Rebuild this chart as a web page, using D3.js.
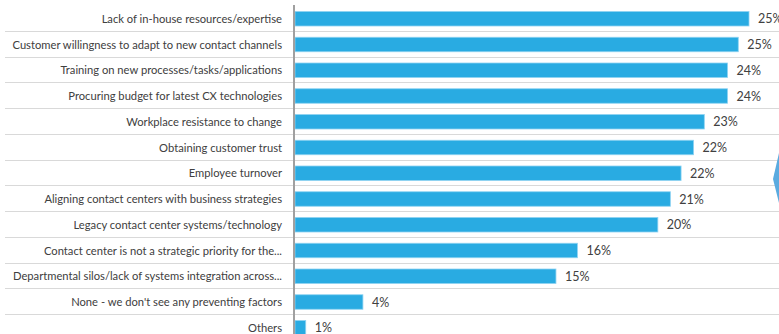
<!DOCTYPE html>
<html>
<head>
<meta charset="utf-8">
<script src="https://cdn.jsdelivr.net/npm/d3@7"></script>
<style>
  body { margin: 0; background: #fff; }
  text { font-family: Lato, "Open Sans", sans-serif; fill: #404040; }
</style>
</head>
<body>
<div id="chart"></div>
<script>
const categories = [
  "Lack of in-house resources/expertise",
  "Customer willingness to adapt to new contact channels",
  "Training on new processes/tasks/applications",
  "Procuring budget for latest CX technologies",
  "Workplace resistance to change",
  "Obtaining customer trust",
  "Employee turnover",
  "Aligning contact centers with business strategies",
  "Legacy contact center systems/technology",
  "Contact center is not a strategic priority for the...",
  "Departmental silos/lack of systems integration across...",
  "None - we don't see any preventing factors",
  "Others"
];
// labels show rounded values
const values = [25.4, 24.8, 24.2, 24.2, 22.9, 22.3, 21.6, 21.0, 20.3, 15.8, 14.6, 3.8, 0.6];

const data = categories.map((c, i) => ({ cat: c, val: values[i] }));

const width = 779, height = 334;

const svg = d3.select("#chart")
  .append("svg")
  .attr("width", width)
  .attr("height", height);

const y = d3.scaleBand()
  .domain(categories)
  .range([5, 5 + 25.75 * categories.length]);

const x = d3.scaleLinear()
  .domain([0, 25.4])
  .range([295, 749]);

// row separators
svg.append("g")
  .selectAll("line")
  .data(categories.slice(1))
  .join("line")
  .attr("x1", 5)
  .attr("x2", width)
  .attr("y1", d => Math.round(y(d)) + 0.5)
  .attr("y2", d => Math.round(y(d)) + 0.5)
  .attr("stroke", "#d9d9d9")
  .attr("stroke-width", 1);

// bars
svg.append("g")
  .selectAll("rect")
  .data(data)
  .join("rect")
  .attr("x", x(0))
  .attr("y", d => y(d.cat) + 6.5)
  .attr("width", d => x(d.val) - x(0))
  .attr("height", 14.5)
  .attr("fill", "#29abe2")
  .attr("stroke", "#8fd3f2")
  .attr("stroke-width", 0.8);

// category axis line
svg.append("line")
  .attr("x1", 294)
  .attr("x2", 294)
  .attr("y1", 5)
  .attr("y2", height)
  .attr("stroke", "#a0a0a0")
  .attr("stroke-width", 2);

// category labels
svg.append("g")
  .selectAll("text")
  .data(data)
  .join("text")
  .attr("x", 282)
  .attr("y", d => y(d.cat) + 14)
  .attr("dy", "0.35em")
  .attr("text-anchor", "end")
  .attr("font-size", 11.2)
  .text(d => d.cat);

// value labels
svg.append("g")
  .selectAll("text")
  .data(data)
  .join("text")
  .attr("x", d => x(d.val) + 9)
  .attr("y", d => y(d.cat) + 14)
  .attr("dy", "0.35em")
  .attr("font-size", 12.5)
  .text(d => Math.round(d.val) + "%");

// partial arrow shape at right edge
svg.append("path")
  .attr("d", "M779,153 L773,179 L779,203 Z")
  .attr("fill", "#5aabe0");
</script>
</body>
</html>
